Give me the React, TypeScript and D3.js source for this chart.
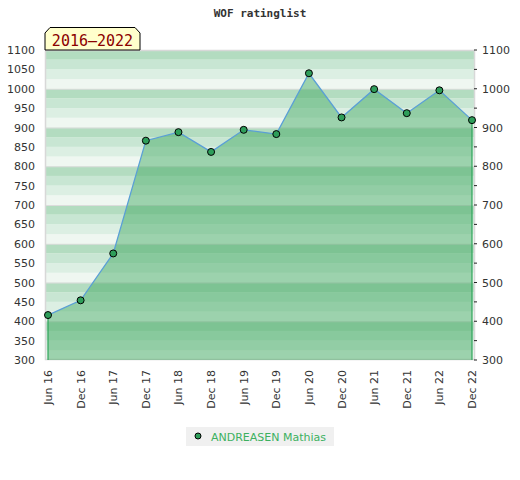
import React from "react";
import * as d3 from "d3";

const periods = ["Jun 16","Dec 16","Jun 17","Dec 17","Jun 18","Dec 18","Jun 19","Dec 19","Jun 20","Dec 20","Jun 21","Dec 21","Jun 22","Dec 22"];
const ratings = [416, 454, 575, 866, 888, 837, 894, 883, 1040, 926, 999, 937, 996, 919];
const leftTicks = d3.range(300, 1101, 50);
const rightTicks = d3.range(300, 1101, 100);
const bandStarts = d3.range(300, 1100, 25);
const bandColors = ["#eff7f1", "#dcefe3", "#c8e6d3", "#b3dcc0"]; // bottom->top within each 100
const playerName = "ANDREASEN Mathias";
const title = "WOF ratinglist";
const periodLabel = "2016\u20132022";

const W = 520, H = 480;
const L = 45, R = 475, T = 50, B = 360;

export default function App() {
  const x = d3.scalePoint<string>().domain(periods).range([48, 472]);
  const y = d3.scaleLinear().domain([300, 1100]).range([B, T]);
  const pts = periods.map((p, i) => [x(p)!, y(ratings[i])] as [number, number]);
  const area = d3.area<[number, number]>().x(d => d[0]).y0(y(300)).y1(d => d[1])(pts)!;
  const line = d3.line<[number, number]>()(pts)!;
  const font = "'DejaVu Sans', sans-serif";
  const mono = "'DejaVu Sans Mono', monospace";
  return (
    <svg width={W} height={H} style={{ position: "absolute", left: 0, top: 0 }}>
      <rect x={0} y={0} width={W} height={H} fill="#fff" />
      <text x={260} y={17} textAnchor="middle" fontFamily={mono} fontWeight="bold" fontSize={11} fill="#333">{title}</text>
      {bandStarts.map(v => (
        <rect key={v} x={L} y={y(v + 25)} width={R - L} height={y(v) - y(v + 25)} fill={bandColors[((v - 300) / 25) % 4]} />
      ))}
      {bandStarts.filter(v => (v - 300) % 100 === 0 && v > 300).map(v => (
        <line key={"s" + v} x1={L} x2={R} y1={y(v) + 0.5} y2={y(v) + 0.5} stroke="#dcdcdc" strokeWidth={1} />
      ))}
      <rect x={L + 0.5} y={T + 0.5} width={R - L - 1} height={B - T - 1} fill="none" stroke="#d8d8d8" strokeWidth={1.5} />
      <path d={area} fill="rgb(64,167,96)" fillOpacity={0.47} />
      <line x1={pts[0][0]} x2={pts[0][0]} y1={pts[0][1]} y2={B} stroke="#2ea55a" strokeWidth={1.2} />
      <line x1={pts[pts.length - 1][0]} x2={pts[pts.length - 1][0]} y1={pts[pts.length - 1][1]} y2={B} stroke="#2ea55a" strokeWidth={1.2} />
      <path d={line} fill="none" stroke="#5a9fd6" strokeWidth={1.3} />
      {pts.map((p, i) => (
        <circle key={i} cx={p[0]} cy={p[1]} r={3.5} fill="#2e9e5a" stroke="#000" strokeWidth={1} />
      ))}
      {leftTicks.map(v => (
        <text key={"l" + v} x={35} y={y(v) + 4} textAnchor="end" fontFamily={font} fontSize={11} fill="#333">{v}</text>
      ))}
      {leftTicks.map(v => (
        <line key={"rt" + v} x1={R - 1} x2={R + 2} y1={y(v)} y2={y(v)} stroke="#222" strokeWidth={1} />
      ))}
      {rightTicks.map(v => (
        <text key={"r" + v} x={482} y={y(v) + 4} textAnchor="start" fontFamily={font} fontSize={11} fill="#333">{v}</text>
      ))}
      {periods.map(p => (
        <text key={p} transform={`translate(${x(p)! + 4},${370}) rotate(-90)`} textAnchor="end" fontFamily={font} fontSize={11} fill="#333">{p}</text>
      ))}
      <path d={`M${L},${T} L${L},${33} L${L + 5},${27.5} L${135},${27.5} L${140},${33} L${140},${T} Z`} fill="#ffffcc" stroke="#000" strokeWidth={1} />
      <text x={92.5} y={46} textAnchor="middle" fontFamily={mono} fontSize={15} fill="#8b0000">{periodLabel}</text>
      <rect x={186} y={427} width={148} height={19} fill="#f0f0f0" />
      <circle cx={198} cy={436} r={3} fill="#2e9e5a" stroke="#000" strokeWidth={1} />
      <text x={211} y={440.5} fontFamily={font} fontSize={11} fill="#3cb060">{playerName}</text>
    </svg>
  );
}
